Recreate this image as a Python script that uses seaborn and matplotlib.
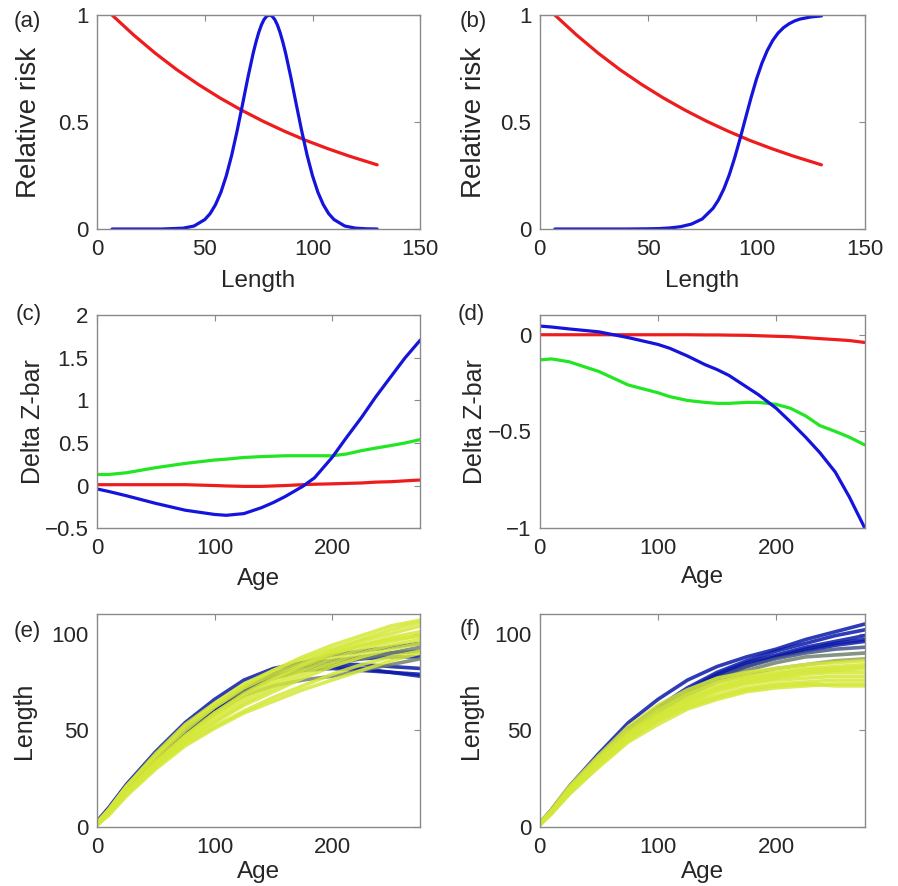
import numpy as np
import pandas as pd
import matplotlib
matplotlib.use('Agg')
import matplotlib.pyplot as plt
from matplotlib.colors import LinearSegmentedColormap
import seaborn as sns

sns.set_style('white')
plt.rcParams['font.family'] = ['Liberation Sans', 'DejaVu Sans']
plt.rcParams['text.color'] = '#262626'
plt.rcParams['axes.labelcolor'] = '#262626'
plt.rcParams['xtick.color'] = '#262626'
plt.rcParams['ytick.color'] = '#262626'
plt.rcParams['lines.solid_joinstyle'] = 'round'

## (a) (b) 相对风险 vs 体长
len_red = [7, 17, 27, 37, 47, 57, 67, 77, 87, 97, 107, 117, 130]
risk_red = [1.0, 0.907, 0.822, 0.745, 0.676, 0.613, 0.556, 0.504, 0.457, 0.414, 0.376, 0.341, 0.30]

len_a = [7, 20, 30, 40, 45, 50, 52.5, 55, 57.5, 60, 62.5, 65, 67.5, 70, 72.5, 73.75, 75, 76.25,
         77.5, 78.75, 80, 81.25, 82.5, 83.75, 85, 86.25, 87.5, 90, 92.5, 95, 97.5, 100, 102.5,
         105, 107.5, 110, 115, 120, 125, 130]
risk_a = [0, 0, 0, 0.004, 0.014, 0.044, 0.072, 0.114, 0.172, 0.249, 0.345, 0.458, 0.581, 0.707,
          0.823, 0.873, 0.917, 0.953, 0.979, 0.995, 1.0, 0.995, 0.979, 0.953, 0.917, 0.873,
          0.823, 0.707, 0.581, 0.458, 0.345, 0.249, 0.172, 0.114, 0.072, 0.044, 0.014, 0.004,
          0.001, 0]

len_b = [7, 20, 30, 40, 50, 55, 60, 65, 70, 75, 80, 82.5, 85, 87.5, 90, 92.5, 95, 97.5, 100,
         102.5, 105, 107.5, 110, 112.5, 115, 117.5, 120, 125, 130]
risk_b = [0, 0, 0, 0, 0.001, 0.002, 0.005, 0.011, 0.023, 0.047, 0.097, 0.136, 0.188, 0.254,
          0.334, 0.424, 0.519, 0.613, 0.700, 0.774, 0.834, 0.881, 0.916, 0.941, 0.959, 0.972,
          0.981, 0.991, 0.996]

## (c) (d) Delta Z-bar vs 年龄
age_cd = [0, 10, 25, 50, 75, 100, 110, 125, 140, 150, 160, 175, 185, 200, 212, 225, 237, 250, 262, 275]
c_blue = [-0.04, -0.07, -0.12, -0.21, -0.29, -0.34, -0.35, -0.33, -0.26, -0.20, -0.13, -0.01, 0.09,
          0.33, 0.56, 0.80, 1.04, 1.28, 1.50, 1.71]
c_green = [0.13, 0.13, 0.15, 0.21, 0.26, 0.30, 0.31, 0.33, 0.34, 0.345, 0.35, 0.35, 0.35, 0.35,
           0.37, 0.41, 0.44, 0.47, 0.50, 0.54]
c_red = [0.01, 0.01, 0.01, 0.01, 0.01, 0.0, -0.005, -0.01, -0.01, -0.005, 0.0, 0.01, 0.015, 0.02,
         0.025, 0.03, 0.04, 0.045, 0.055, 0.065]
d_blue = [0.045, 0.04, 0.03, 0.015, -0.015, -0.05, -0.07, -0.11, -0.155, -0.18, -0.21, -0.27, -0.31,
          -0.38, -0.45, -0.53, -0.61, -0.71, -0.84, -1.0]
d_green = [-0.13, -0.125, -0.14, -0.19, -0.26, -0.30, -0.32, -0.34, -0.35, -0.355, -0.355, -0.35,
           -0.35, -0.36, -0.38, -0.42, -0.47, -0.50, -0.53, -0.57]
d_red = [0.0, 0.0, 0.0, 0.0, 0.0, 0.0, 0.0, 0.0, -0.001, -0.001, -0.002, -0.003, -0.005, -0.008,
         -0.01, -0.015, -0.02, -0.025, -0.03, -0.04]

## (e) (f) 个体生长轨迹，hue: 0=蓝, 1=黄
age_ef = [0, 10, 25, 50, 75, 100, 125, 150, 175, 200, 225, 250, 275]
e_hue = [0, 0, 0, 0, 0, 0.1, 0.5, 0.5, 1, 1, 1, 1, 1, 1, 1, 1, 1, 1]
e_len = [
    [3, 10, 22, 39, 54, 66, 76, 82, 85, 86, 87, 88, 88],
    [2, 9, 20, 36, 51, 62, 72, 79, 83, 84, 84, 83, 82],
    [2, 9, 20, 35, 50, 61, 71, 78, 82, 83, 82, 80, 79],
    [2, 8, 19, 34, 49, 60, 71, 79, 85, 89, 91, 93, 95],
    [2, 9, 20, 35, 49, 60, 70, 77, 81, 82, 81, 80, 78],
    [2, 9, 20, 36, 51, 62, 72, 79, 84, 86, 88, 90, 91],
    [2, 8, 19, 34, 48, 59, 68, 73, 76, 78, 81, 84, 87],
    [3, 9, 21, 37, 51, 62, 71, 77, 81, 84, 87, 90, 93],
    [2, 9, 21, 38, 53, 64, 74, 81, 87, 92, 97, 102, 106],
    [2, 8, 20, 36, 50, 62, 72, 79, 85, 91, 96, 100, 104],
    [1, 7, 18, 33, 47, 58, 68, 76, 83, 89, 94, 98, 101],
    [2, 8, 18, 33, 46, 57, 66, 74, 81, 87, 92, 96, 99],
    [1, 7, 17, 32, 45, 55, 64, 72, 79, 85, 90, 94, 97],
    [2, 7, 17, 31, 44, 54, 63, 70, 77, 83, 88, 92, 95],
    [1, 7, 17, 31, 43, 52, 60, 67, 73, 79, 84, 88, 91],
    [2, 9, 21, 37, 52, 63, 73, 81, 88, 94, 99, 104, 107],
    [1, 6, 16, 30, 42, 51, 59, 65, 71, 76, 81, 86, 90],
    [2, 8, 18, 34, 47, 59, 69, 77, 84, 90, 94, 97, 99],
]
f_hue = [0, 0, 0, 0, 0, 0.3, 0.5, 0.7, 1, 1, 1, 1, 1, 1, 1, 1, 1]
f_len = [
    [2, 9, 21, 38, 54, 66, 76, 83, 88, 92, 97, 101, 105],
    [2, 8, 20, 36, 51, 62, 72, 80, 86, 91, 95, 99, 102],
    [2, 8, 20, 35, 50, 61, 71, 79, 85, 89, 93, 96, 99],
    [2, 8, 19, 34, 49, 60, 70, 78, 84, 88, 91, 94, 96],
    [2, 8, 19, 34, 48, 59, 69, 77, 83, 88, 92, 95, 97],
    [2, 8, 20, 35, 50, 61, 70, 77, 83, 87, 90, 92, 93],
    [2, 8, 20, 35, 49, 60, 69, 76, 81, 85, 88, 89, 90],
    [2, 8, 19, 35, 49, 60, 68, 75, 79, 82, 84, 86, 87],
    [2, 9, 21, 37, 52, 63, 71, 77, 80, 82, 84, 85, 86],
    [2, 8, 20, 36, 50, 61, 69, 75, 78, 80, 82, 83, 84],
    [1, 8, 19, 34, 48, 58, 66, 72, 76, 78, 80, 81, 82],
    [2, 7, 18, 33, 47, 57, 65, 71, 75, 77, 79, 80, 80],
    [1, 7, 18, 33, 46, 56, 64, 70, 74, 76, 77, 78, 78],
    [1, 7, 17, 32, 45, 55, 63, 68, 72, 74, 75, 76, 76],
    [1, 7, 17, 31, 44, 53, 61, 66, 70, 72, 73, 74, 74],
    [2, 8, 19, 34, 48, 59, 67, 73, 77, 79, 81, 82, 83],
    [1, 7, 18, 32, 45, 55, 62, 67, 71, 73, 74, 73, 73],
]

RED = '#ee1c1c'
BLUE = '#1414dc'
GREEN = '#22e622'
AXC = '#8a8a8a'
cmap = LinearSegmentedColormap.from_list('by', ['#0b1aa8', '#d4e838'])

fig = plt.figure(figsize=(8.98, 8.86), dpi=100)
pos = {
    'a': [0.108, 0.7415, 0.360, 0.2415], 'b': [0.601, 0.7415, 0.362, 0.2415],
    'c': [0.108, 0.404, 0.360, 0.240], 'd': [0.601, 0.404, 0.362, 0.240],
    'e': [0.108, 0.0666, 0.360, 0.240], 'f': [0.601, 0.0666, 0.362, 0.240],
}
axs = {k: fig.add_axes(v) for k, v in pos.items()}


def style(ax, xlab, ylab, ylx, xly, ysize=18):
    for s in ax.spines.values():
        s.set_color(AXC)
        s.set_linewidth(1.0)
    ax.tick_params(direction='in', top=True, right=True, length=4, width=0.8, color=AXC,
                   labelsize=16)
    ax.tick_params(axis='x', pad=7)
    ax.tick_params(axis='y', pad=6)
    ax.set_xlabel(xlab, fontsize=17.5)
    ax.set_ylabel(ylab, fontsize=ysize)
    ax.yaxis.set_label_coords(ylx, 0.5)
    ax.xaxis.set_label_coords(0.5, xly)


LW = 2.3
# (a)
ax = axs['a']
sns.lineplot(x=len_red, y=risk_red, ax=ax, color=RED, lw=LW, sort=False)
sns.lineplot(x=len_a, y=risk_a, ax=ax, color=BLUE, lw=LW, sort=False)
ax.set_xlim(0, 150); ax.set_ylim(0, 1)
ax.set_xticks([0, 50, 100, 150]); ax.set_yticks([0, 0.5, 1]); ax.set_yticklabels(['0', '0.5', '1'])
style(ax, 'Length', 'Relative risk', -0.17, -0.19, ysize=20)

# (b)
ax = axs['b']
sns.lineplot(x=len_red, y=risk_red, ax=ax, color=RED, lw=LW, sort=False)
sns.lineplot(x=len_b, y=risk_b, ax=ax, color=BLUE, lw=LW, sort=False)
ax.set_xlim(0, 150); ax.set_ylim(0, 1)
ax.set_xticks([0, 50, 100, 150]); ax.set_yticks([0, 0.5, 1]); ax.set_yticklabels(['0', '0.5', '1'])
style(ax, 'Length', 'Relative risk', -0.163, -0.19, ysize=20)

# (c)
ax = axs['c']
sns.lineplot(x=age_cd, y=c_green, ax=ax, color=GREEN, lw=LW, sort=False)
sns.lineplot(x=age_cd, y=c_red, ax=ax, color=RED, lw=LW, sort=False)
sns.lineplot(x=age_cd, y=c_blue, ax=ax, color=BLUE, lw=LW, sort=False)
ax.set_xlim(0, 275); ax.set_ylim(-0.5, 2)
ax.set_xticks([0, 100, 200])
ax.set_yticks([-0.5, 0, 0.5, 1, 1.5, 2])
ax.set_yticklabels(['\u22120.5', '0', '0.5', '1', '1.5', '2'])
style(ax, 'Age', 'Delta Z-bar', -0.16, -0.19)

# (d)
ax = axs['d']
sns.lineplot(x=age_cd, y=d_red, ax=ax, color=RED, lw=LW, sort=False)
sns.lineplot(x=age_cd, y=d_green, ax=ax, color=GREEN, lw=LW, sort=False)
sns.lineplot(x=age_cd, y=d_blue, ax=ax, color=BLUE, lw=LW, sort=False)
ax.set_xlim(0, 275); ax.set_ylim(-1, 0.1)
ax.set_xticks([0, 100, 200])
ax.set_yticks([-1, -0.5, 0]); ax.set_yticklabels(['\u22121', '\u22120.5', '0'])
style(ax, 'Age', 'Delta Z-bar', -0.163, -0.18)


def traj_frame(hues, curves):
    rows = []
    for i, (h, c) in enumerate(zip(hues, curves)):
        for a, l in zip(age_ef, c):
            rows.append((i, h, a, l))
    return pd.DataFrame(rows, columns=['id', 'hue', 'age', 'length'])


for key, hues, curves, ylx, xly in [('e', e_hue, e_len, -0.19, -0.16),
                                    ('f', f_hue, f_len, -0.175, -0.16)]:
    ax = axs[key]
    df = traj_frame(hues, curves)
    sns.lineplot(data=df, x='age', y='length', hue='hue', units='id', estimator=None,
                 palette=cmap, hue_norm=(0, 1), legend=False, ax=ax, lw=2.6, alpha=0.85,
                 sort=False)
    ax.set_xlim(0, 275); ax.set_ylim(0, 110)
    ax.set_xticks([0, 100, 200]); ax.set_yticks([0, 50, 100])
    style(ax, 'Age', 'Length', ylx, xly)

# 子图标号
for lab, x, y in [('(a)', 14, 22), ('(b)', 460, 22), ('(c)', 16, 315),
                  ('(d)', 458, 315), ('(e)', 14, 631), ('(f)', 460, 630)]:
    fig.text(x / 898, 1 - y / 886, lab, fontsize=16, ha='left', va='center')

fig.savefig('out.png', dpi=100)
